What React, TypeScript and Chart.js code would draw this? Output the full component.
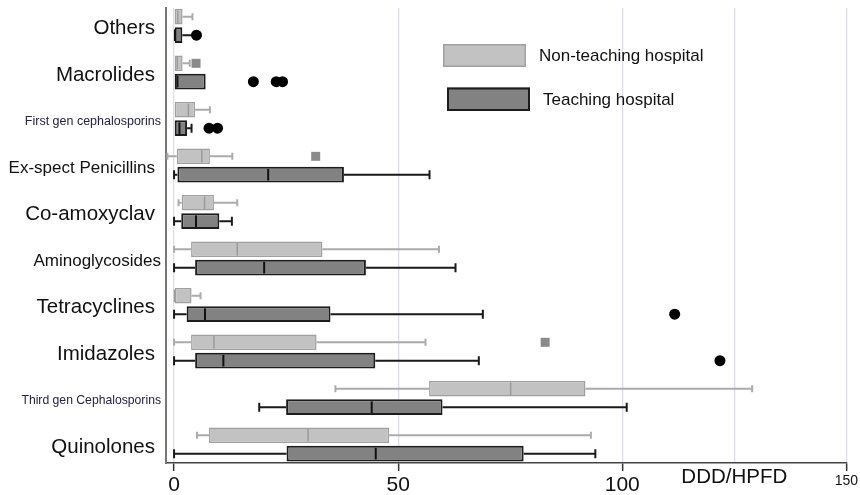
import React, { useEffect, useRef } from 'react';
import { Chart, registerables } from 'chart.js';

Chart.register(...registerables);

// ---------------- data ----------------
const categories = [
  'Others',
  'Macrolides',
  'First gen cephalosporins',
  'Ex-spect Penicillins',
  'Co-amoxyclav',
  'Aminoglycosides',
  'Tetracyclines',
  'Imidazoles',
  'Third gen Cephalosporins',
  'Quinolones',
];

const seriesNames = ['Non-teaching hospital', 'Teaching hospital'];

const nonTeachingMin = [0, 0, 0, -1.5, 1.0, 0, 0, 0, 36.0, 5.1];
const nonTeachingQ1 = [0, 0, 0, 0.6, 1.7, 3.8, 0, 3.8, 56.9, 7.8];
const nonTeachingMedian = [0.8, 0.7, 3.2, 6.2, 6.8, 14.1, 0.1, 8.9, 75.1, 29.9];
const nonTeachingQ3 = [1.9, 1.9, 4.7, 8.0, 8.9, 33.1, 3.9, 31.8, 91.8, 48.0];
const nonTeachingMax = [4.1, 3.5, 8.0, 13.0, 14.1, 59.1, 5.9, 56.1, 129.0, 93.0];
const nonTeachingOutliers = [[], [4.9], [], [31.6], [], [], [], [82.8], [], []];

const teachingMin = [0, 0, 0, 0, 0, 0, 0, 0, 19.0, 0];
const teachingQ1 = [0, 0, 0, 0.75, 1.6, 4.7, 2.8, 4.7, 25.0, 25.1];
const teachingMedian = [0.2, 0.75, 1.2, 21.0, 4.9, 20.1, 6.9, 11.0, 44.1, 45.0];
const teachingQ3 = [1.85, 7.05, 2.9, 37.9, 10.1, 42.8, 34.9, 44.9, 59.9, 78.0];
const teachingMax = [4.5, 7.05, 3.9, 57.0, 12.9, 62.8, 68.9, 68.0, 101.0, 94.0];
const teachingOutliers = [[5.0], [17.7, 22.8, 24.2], [7.8, 9.7], [], [], [], [111.7], [121.8], [], []];

const xTickValues = [0, 50, 100, 125, 150];
const xTickLabels = ['0', '50', '100', '', '150'];
const axisTitle = 'DDD/HPFD';

// ---------------- styles ----------------
const FONT = '"Liberation Sans", Arial, Helvetica, sans-serif';

const labelFontSizes = [20.5, 20.5, 12.5, 17, 20.5, 17, 20.5, 20.5, 12.2, 20.5];
const labelGaps = [11, 11, 5, 11, 11, 5, 11, 11, 5, 11];
const labelColors = ['#111', '#111', '#22224e', '#111', '#111', '#111', '#111', '#111', '#22224e', '#111'];

const stats = [
  { min: nonTeachingMin, q1: nonTeachingQ1, med: nonTeachingMedian, q3: nonTeachingQ3, max: nonTeachingMax, out: nonTeachingOutliers },
  { min: teachingMin, q1: teachingQ1, med: teachingMedian, q3: teachingQ3, max: teachingMax, out: teachingOutliers },
];

const styles = [
  {
    fill: '#c2c2c2', border: '#a0a0a0', borderWidth: 1.5,
    whisker: '#ababab', whiskerWidth: 2, capHalf: 3.5,
    median: '#9a9a9a', medianWidth: 1.5,
    outlierShape: 'square', outlierColor: '#8a8a8a', outlierSize: 9,
  },
  {
    fill: '#828282', border: '#1c1c1c', borderWidth: 2,
    whisker: '#1a1a1a', whiskerWidth: 2, capHalf: 4.5,
    median: '#111111', medianWidth: 2,
    outlierShape: 'circle', outlierColor: '#000000', outlierSize: 5.5,
  },
];

const boxPlotPlugin = {
  id: 'boxPlotParts',
  beforeDatasetsDraw(chart: any) {
    const { ctx } = chart;
    const xs = chart.scales.x;
    stats.forEach((s, di) => {
      const meta = chart.getDatasetMeta(di);
      const st = styles[di];
      meta.data.forEach((bar: any, i: number) => {
        const { y } = bar.getProps(['y'], true);
        ctx.save();
        ctx.strokeStyle = st.whisker;
        ctx.lineWidth = st.whiskerWidth;
        ctx.lineCap = 'butt';
        if (s.min[i] < s.q1[i]) {
          const a = xs.getPixelForValue(s.min[i]);
          const b = xs.getPixelForValue(s.q1[i]);
          ctx.beginPath();
          ctx.moveTo(a, y); ctx.lineTo(b, y);
          ctx.moveTo(a, y - st.capHalf); ctx.lineTo(a, y + st.capHalf);
          ctx.stroke();
        }
        if (s.max[i] > s.q3[i]) {
          const a = xs.getPixelForValue(s.q3[i]);
          const b = xs.getPixelForValue(s.max[i]);
          ctx.beginPath();
          ctx.moveTo(a, y); ctx.lineTo(b, y);
          ctx.moveTo(b, y - st.capHalf); ctx.lineTo(b, y + st.capHalf);
          ctx.stroke();
        }
        ctx.restore();
      });
    });
  },
  afterDatasetsDraw(chart: any) {
    const { ctx } = chart;
    const xs = chart.scales.x;
    stats.forEach((s, di) => {
      const meta = chart.getDatasetMeta(di);
      const st = styles[di];
      meta.data.forEach((bar: any, i: number) => {
        const { y, height } = bar.getProps(['y', 'height'], true);
        const m = xs.getPixelForValue(s.med[i]);
        const inset = st.borderWidth;
        ctx.save();
        ctx.strokeStyle = st.median;
        ctx.lineWidth = st.medianWidth;
        ctx.beginPath();
        ctx.moveTo(m, y - height / 2 + inset);
        ctx.lineTo(m, y + height / 2 - inset);
        ctx.stroke();
        ctx.fillStyle = st.outlierColor;
        s.out[i].forEach((v: number) => {
          const px = xs.getPixelForValue(v);
          ctx.beginPath();
          if (st.outlierShape === 'square') {
            ctx.rect(px - st.outlierSize / 2, y - st.outlierSize / 2, st.outlierSize, st.outlierSize);
          } else {
            ctx.arc(px, y, st.outlierSize, 0, Math.PI * 2);
          }
          ctx.fill();
        });
        ctx.restore();
      });
    });
  },
  afterDraw(chart: any) {
    const { ctx, chartArea } = chart;
    const ys = chart.scales.y;
    const xs = chart.scales.x;
    ctx.save();
    // category labels
    ctx.textAlign = 'right';
    ctx.textBaseline = 'middle';
    categories.forEach((c, i) => {
      ctx.font = `${labelFontSizes[i]}px ${FONT}`;
      ctx.fillStyle = labelColors[i];
      ctx.fillText(c, chartArea.left - labelGaps[i], ys.getPixelForValue(i) + 2.5);
    });
    // axis title
    ctx.textAlign = 'center';
    ctx.font = `20.5px ${FONT}`;
    ctx.fillStyle = '#111';
    ctx.fillText(axisTitle, xs.getPixelForValue(125), chartArea.bottom + 14);
    // legend
    const lx = chartArea.left + 277;
    const ly = chartArea.top + 36;
    const items = [
      { x: lx, y: ly, w: 83, h: 23 },
      { x: lx + 4, y: ly + 43.5, w: 83, h: 23.5 },
    ];
    items.forEach((it, k) => {
      const st = styles[k];
      ctx.fillStyle = st.fill;
      ctx.fillRect(it.x, it.y, it.w, it.h);
      ctx.strokeStyle = st.border;
      ctx.lineWidth = st.borderWidth;
      ctx.strokeRect(it.x + st.borderWidth / 2, it.y + st.borderWidth / 2, it.w - st.borderWidth, it.h - st.borderWidth);
      ctx.fillStyle = '#111';
      ctx.textAlign = 'left';
      ctx.textBaseline = 'middle';
      ctx.font = `17px ${FONT}`;
      ctx.fillText(seriesNames[k], it.x + it.w + 13, it.y + it.h / 2 + 1);
    });
    ctx.restore();
  },
};

export default function App() {
  const canvasRef = useRef<HTMLCanvasElement | null>(null);

  useEffect(() => {
    document.body.style.margin = '0';
    const canvas = canvasRef.current;
    if (!canvas) return;
    const chart = new Chart(canvas, {
      type: 'bar',
      data: {
        datasets: stats.map((s, di) => ({
          label: seriesNames[di],
          data: categories.map((_, i) => ({ y: i, x: [s.q1[i], s.q3[i]] })) as any,
          backgroundColor: styles[di].fill,
          borderColor: styles[di].border,
          borderWidth: styles[di].borderWidth,
          borderSkipped: false,
          categoryPercentage: 0.79,
          barPercentage: 0.85,
        })),
      },
      options: {
        indexAxis: 'y',
        animation: false,
        responsive: false,
        maintainAspectRatio: false,
        devicePixelRatio: 1,
        layout: { padding: { top: 8, right: 13, left: 0, bottom: 0 } },
        plugins: {
          legend: { display: false },
          tooltip: { enabled: false },
        },
        scales: {
          x: {
            type: 'linear',
            min: -1.8,
            max: 150,
            afterBuildTicks: (s: any) => {
              s.ticks = xTickValues.map((v) => ({ value: v }));
            },
            afterFit: (s: any) => {
              s.height = 32;
            },
            ticks: {
              autoSkip: false,
              maxRotation: 0,
              padding: 2,
              color: '#111',
              callback: (v: any) => {
                const idx = xTickValues.indexOf(Number(v));
                return idx >= 0 ? xTickLabels[idx] : '';
              },
              font: (c: any) => ({ family: FONT, size: c.tick && c.tick.value === 150 ? 14 : 21 }),
            },
            grid: {
              color: '#dcdcee',
              lineWidth: 1.3,
              tickLength: 8,
              tickWidth: 1.5,
              tickColor: (c: any) => (c.tick && c.tick.value === 125 ? 'rgba(0,0,0,0)' : '#333'),
            },
            border: { display: true, color: '#444', width: 1.5 },
          },
          y: {
            type: 'linear',
            reverse: true,
            offset: false,
            min: -0.387,
            max: 9.398,
            afterBuildTicks: (s: any) => {
              s.ticks = categories.map((_, i) => ({ value: i }));
            },
            afterFit: (s: any) => {
              s.width = 166;
            },
            ticks: { display: false },
            grid: { display: false, offset: false },
            border: { display: true, color: '#777', width: 2 },
          },
        },
      },
      plugins: [boxPlotPlugin],
    } as any);
    return () => chart.destroy();
  }, []);

  return (
    <div style={{ width: 860, height: 495, overflow: 'hidden', background: '#fff' }}>
      <canvas ref={canvasRef} width={860} height={495} style={{ display: 'block', width: 860, height: 495 }} />
    </div>
  );
}
